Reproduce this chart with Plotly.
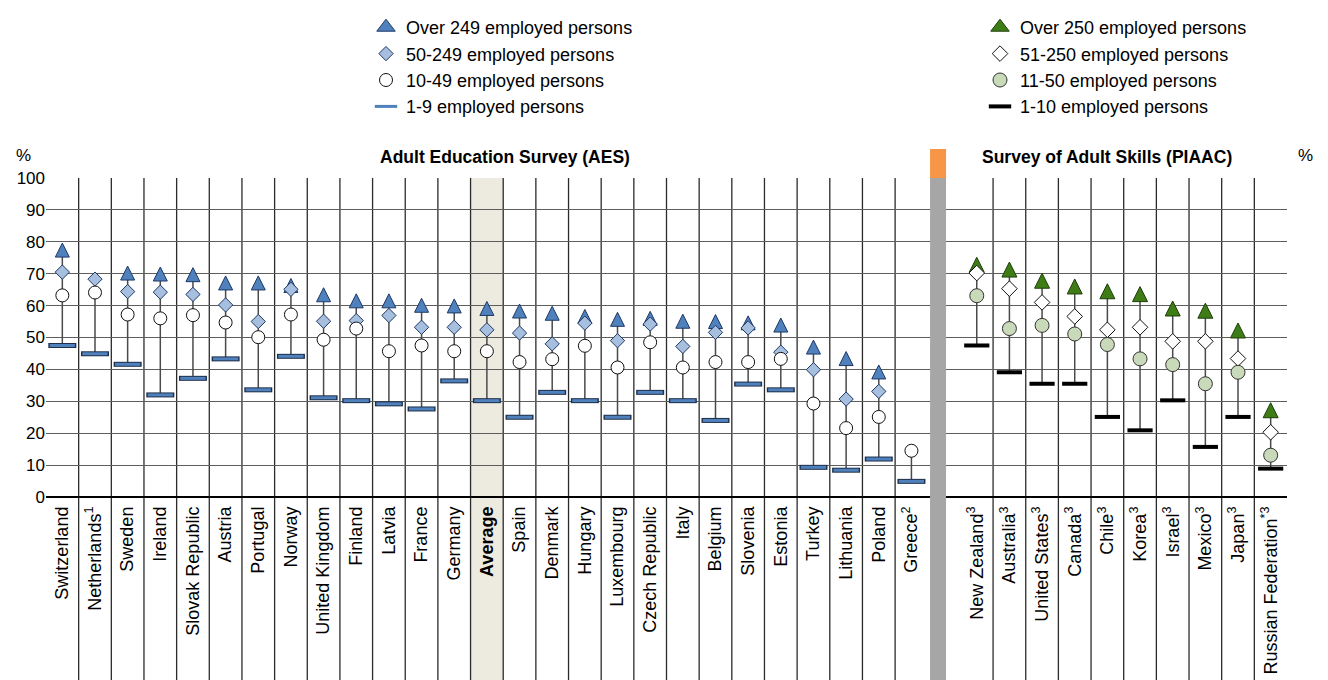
import plotly.graph_objects as go

# ---------------- data ----------------
aes_labels = ["Switzerland", "Netherlands<sup>1</sup>", "Sweden", "Ireland", "Slovak Republic",
              "Austria", "Portugal", "Norway", "United Kingdom", "Finland", "Latvia", "France",
              "Germany", "<b>Average</b>", "Spain", "Denmark", "Hungary", "Luxembourg",
              "Czech Republic", "Italy", "Belgium", "Slovenia", "Estonia", "Turkey",
              "Lithuania", "Poland", "Greece<sup>2</sup>"]
aes_over249 = [77.4, None, 70.2, 69.9, 69.7, 67.1, 67.1, 66.3, 63.4, 61.5, 61.5, 60.1, 59.9,
               59.1, 58.3, 57.6, 56.6, 55.7, 56.0, 55.1, 55.0, 54.6, 53.9, 47.0, 43.4, 39.2, None]
aes_50_249 = [70.5, 68.3, 64.4, 64.2, 63.5, 60.2, 55.0, 65.1, 55.1, 55.3, 56.9, 53.2, 53.2,
              52.4, 51.4, 48.0, 54.5, 49.0, 54.2, 47.2, 51.6, 53.0, 45.4, 39.9, 30.7, 33.1, None]
aes_10_49 = [63.2, 64.1, 57.2, 56.0, 57.0, 54.7, 50.1, 57.2, 49.3, 52.8, 45.7, 47.5, 45.7,
             45.7, 42.3, 43.2, 47.4, 40.6, 48.5, 40.6, 42.3, 42.3, 43.3, 29.3, 21.6, 25.1, 14.5]
aes_1_9 = [47.5, 44.9, 41.6, 32.0, 37.2, 43.3, 33.6, 44.1, 31.1, 30.2, 29.2, 27.6, 36.4,
           30.2, 25.0, 32.8, 30.2, 25.0, 32.8, 30.2, 24.0, 35.4, 33.6, 9.3, 8.4, 11.9, 4.9]

piaac_labels = ["New Zealand<sup>3</sup>", "Australia<sup>3</sup>", "United States<sup>3</sup>",
                "Canada<sup>3</sup>", "Chile<sup>3</sup>", "Korea<sup>3</sup>", "Israel<sup>3</sup>",
                "Mexico<sup>3</sup>", "Japan<sup>3</sup>", "Russian Federation<sup>*3</sup>"]
piaac_over250 = [72.8, 71.3, 67.8, 66.0, 64.5, 63.6, 59.1, 58.4, 52.2, 27.2]
piaac_51_250 = [70.2, 65.3, 61.0, 56.6, 52.4, 53.2, 48.8, 48.8, 43.4, 20.3]
piaac_11_50 = [63.1, 52.8, 53.8, 51.1, 47.8, 43.3, 41.5, 35.5, 39.1, 13.1]
piaac_1_10 = [47.5, 39.1, 35.5, 35.5, 25.1, 20.9, 30.3, 15.7, 25.1, 8.9]

y_ticks = list(range(0, 101, 10))

# ---------------- positions ----------------
n_aes = len(aes_labels)
gap_x = n_aes
aes_x = list(range(n_aes))
piaac_x = [n_aes + 1 + i for i in range(len(piaac_labels))]
all_labels = aes_labels + [""] + piaac_labels
all_x = list(range(len(all_labels)))
avg_x = aes_labels.index("<b>Average</b>")

FONT = "Liberation Sans, Arial, sans-serif"
W, H = 1328, 680
ML, MR, MT, MB = 46, 41, 178, 183
plot_h = H - MT - MB
plot_w = W - ML - MR

AES_TRI = "#4F81BD"
AES_DIA = "#A7BFDE"
EDGE_BLUE = "#1F3864"
PIA_TRI = "#3E7D16"
PIA_CIR = "#C8DAB9"


def stems(xs, *series):
    sx, sy = [], []
    for j, x in enumerate(xs):
        vals = [s[j] for s in series if s[j] is not None]
        sx += [x, x, None]
        sy += [min(vals), max(vals), None]
    return sx, sy


fig = go.Figure()

sx1, sy1 = stems(aes_x, aes_over249, aes_50_249, aes_10_49, aes_1_9)
sx2, sy2 = stems(piaac_x, piaac_over250, piaac_51_250, piaac_11_50, piaac_1_10)
fig.add_trace(go.Scatter(x=sx1 + sx2, y=sy1 + sy2, mode="lines",
                         line=dict(color="#4a4a4a", width=1.5),
                         showlegend=False, hoverinfo="skip"))

# ---- AES markers ----
tri_size = 14
fig.add_trace(go.Scatter(x=aes_x, y=aes_over249, mode="markers", showlegend=False,
                         marker=dict(symbol="arrow-down", angle=180, standoff=tri_size / 2,
                                     size=tri_size, color=AES_TRI,
                                     line=dict(color=EDGE_BLUE, width=1))))
# legend entry for the triangle (legend ignores the standoff of the arrow symbol)
fig.add_trace(go.Scatter(x=[None], y=[None], mode="markers", name="Over 249 employed persons",
                         legend="legend",
                         marker=dict(symbol="triangle-up", size=16, color=AES_TRI,
                                     line=dict(color=EDGE_BLUE, width=1))))
fig.add_trace(go.Scatter(x=aes_x, y=aes_50_249, mode="markers", name="50-249 employed persons",
                         legend="legend",
                         marker=dict(symbol="diamond", size=11, color=AES_DIA,
                                     line=dict(color=EDGE_BLUE, width=1))))
fig.add_trace(go.Scatter(x=aes_x, y=aes_10_49, mode="markers", name="10-49 employed persons",
                         legend="legend",
                         marker=dict(symbol="circle", size=13, color="white",
                                     line=dict(color="#111111", width=1))))
fig.add_trace(go.Scatter(x=aes_x, y=aes_1_9, mode="markers", showlegend=False, hoverinfo="skip",
                         marker=dict(symbol="line-ew", size=20, color="#1F2F4A",
                                     line=dict(width=5, color="#1F2F4A"))))
fig.add_trace(go.Scatter(x=aes_x, y=aes_1_9, mode="markers", name="1-9 employed persons",
                         legend="legend",
                         marker=dict(symbol="line-ew", size=18, color=AES_TRI,
                                     line=dict(width=3, color=AES_TRI))))

# ---- PIAAC markers ----
fig.add_trace(go.Scatter(x=piaac_x, y=piaac_over250, mode="markers", showlegend=False,
                         marker=dict(symbol="arrow-down", angle=180, standoff=15 / 2,
                                     size=15, color=PIA_TRI,
                                     line=dict(color="#1E3D0A", width=1))))
fig.add_trace(go.Scatter(x=[None], y=[None], mode="markers", name="Over 250 employed persons",
                         legend="legend2",
                         marker=dict(symbol="triangle-up", size=16, color=PIA_TRI,
                                     line=dict(color="#1E3D0A", width=1))))
fig.add_trace(go.Scatter(x=piaac_x, y=piaac_51_250, mode="markers", name="51-250 employed persons",
                         legend="legend2",
                         marker=dict(symbol="diamond", size=12, color="white",
                                     line=dict(color="#111111", width=1))))
fig.add_trace(go.Scatter(x=piaac_x, y=piaac_11_50, mode="markers", name="11-50 employed persons",
                         legend="legend2",
                         marker=dict(symbol="circle", size=14, color=PIA_CIR,
                                     line=dict(color="#333333", width=1))))
fig.add_trace(go.Scatter(x=piaac_x, y=piaac_1_10, mode="markers", name="1-10 employed persons",
                         legend="legend2",
                         marker=dict(symbol="line-ew", size=18, color="#000000",
                                     line=dict(width=4, color="#000000"))))

# ---------------- shapes ----------------
shapes = []
bottom = -(MB + 5) / plot_h
shapes.append(dict(type="rect", xref="x", yref="paper", x0=avg_x - 0.5, x1=avg_x + 0.5,
                   y0=bottom, y1=1, fillcolor="#EDEBE0", line=dict(width=0), layer="below"))
for i in range(len(all_labels) - 1):
    xs = i + 0.5
    if abs(xs - gap_x) < 1:
        continue
    shapes.append(dict(type="line", xref="x", yref="paper", x0=xs, x1=xs, y0=bottom, y1=1,
                       line=dict(color="#2b2b2b", width=1.3), layer="below"))
shapes.append(dict(type="rect", xref="x", yref="paper", x0=gap_x - 0.43, x1=gap_x + 0.06,
                   y0=bottom, y1=1, fillcolor="#A6A6A6", line=dict(width=0), layer="above"))
shapes.append(dict(type="rect", xref="x", yref="paper", x0=gap_x - 0.43, x1=gap_x + 0.06,
                   y0=1, y1=1 + 29 / plot_h, fillcolor="#F79646", line=dict(width=0), layer="above"))

# ---------------- annotations ----------------
annotations = [
    dict(text="%", xref="paper", yref="paper", x=(23 - ML) / plot_w, y=1 + 23 / plot_h,
         showarrow=False, font=dict(size=17), xanchor="center", yanchor="middle"),
    dict(text="%", xref="paper", yref="paper", x=(1305 - ML) / plot_w, y=1 + 23 / plot_h,
         showarrow=False, font=dict(size=17), xanchor="center", yanchor="middle"),
    dict(text="<b>Adult Education Survey (AES)</b>", xref="paper", yref="paper",
         x=(505 - ML) / plot_w, y=1 + 21 / plot_h,
         showarrow=False, font=dict(size=17.5), xanchor="center", yanchor="middle"),
    dict(text="<b>Survey of Adult Skills (PIAAC)</b>", xref="paper", yref="paper",
         x=(1107 - ML) / plot_w, y=1 + 21 / plot_h,
         showarrow=False, font=dict(size=17.5), xanchor="center", yanchor="middle"),
]

fig.update_layout(
    width=W, height=H,
    margin=dict(l=ML, r=MR, t=MT, b=MB, autoexpand=False),
    paper_bgcolor="white", plot_bgcolor="white",
    font=dict(family=FONT, size=17, color="#000000"),
    hovermode=False,
    shapes=shapes,
    annotations=annotations,
    xaxis=dict(range=[-0.5, len(all_labels) - 0.5], tickmode="array", tickvals=all_x,
               ticktext=all_labels, tickangle=-90, showgrid=False, zeroline=False,
               showline=False, ticks="", tickfont=dict(size=18), automargin=False,
               ticklabelstandoff=5),
    yaxis=dict(range=[0, 100], tickvals=y_ticks, showgrid=True, gridcolor="#5e5e5e",
               gridwidth=1.4, zeroline=True, zerolinecolor="#000000", zerolinewidth=1.6,
               showline=False, ticks="", tickfont=dict(size=17), automargin=False),
    yaxis2=dict(range=[0, 100], tickvals=y_ticks, overlaying="y", side="right", showgrid=False,
                zeroline=False, showline=False, ticks="outside", ticklen=6,
                tickcolor="#5e5e5e", tickwidth=1.4, tickfont=dict(size=17), automargin=False),
    legend=dict(xref="container", yref="container", x=366 / W, y=1 - 9 / H,
                xanchor="left", yanchor="top", font=dict(size=18),
                bgcolor="rgba(0,0,0,0)", tracegroupgap=0),
    legend2=dict(xref="container", yref="container", x=980 / W, y=1 - 9 / H,
                 xanchor="left", yanchor="top", font=dict(size=18),
                 bgcolor="rgba(0,0,0,0)", tracegroupgap=0),
)

fig.write_html("out.html", config={"displayModeBar": False},
               post_script="document.body.style.margin='0';")
